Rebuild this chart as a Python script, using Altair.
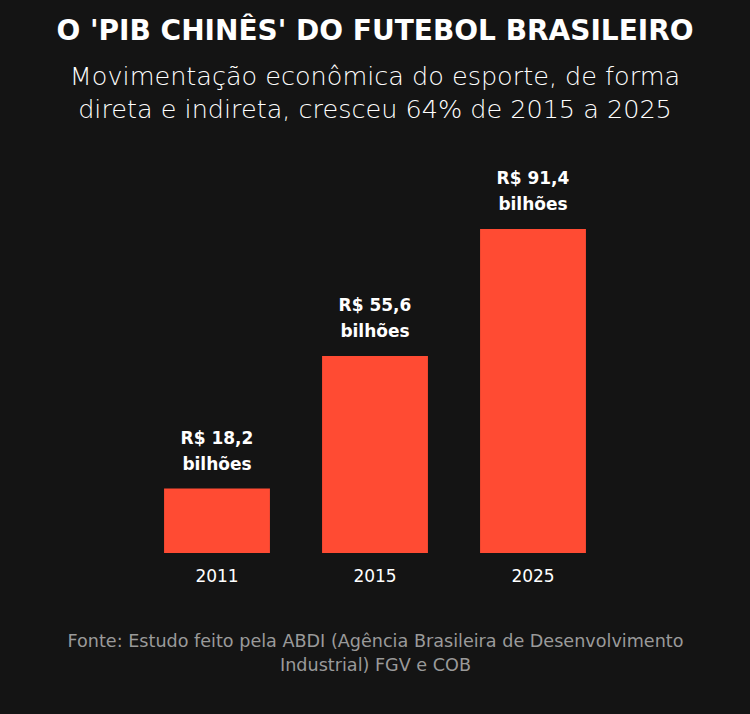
import altair as alt
import pandas as pd

anos = ["2011", "2015", "2025"]
valores = [18.2, 55.6, 91.4]
rotulos = ["R$ 18,2\nbilhões", "R$ 55,6\nbilhões", "R$ 91,4\nbilhões"]

titulo = "O 'PIB CHINÊS' DO FUTEBOL BRASILEIRO"
subtitulo = ["Movimentação econômica do esporte, de forma",
             "direta e indireta, cresceu 64% de 2015 a 2025"]
fonte = ["Fonte: Estudo feito pela ABDI (Agência Brasileira de Desenvolvimento",
         "Industrial) FGV e COB"]

df = pd.DataFrame({"ano": anos, "valor": valores, "rotulo": rotulos})

FONT = "DejaVu Sans"
BG = "#141414"
BAR = "#ff4b33"

x = alt.X("ano:N", sort=anos,
          scale=alt.Scale(paddingInner=0.33, paddingOuter=0.165),
          axis=alt.Axis(title=fonte, labelAngle=0, labelColor="#ffffff",
                        labelFont=FONT, labelFontSize=17, labelPadding=15,
                        domain=False, ticks=False,
                        titleColor="#9a9a9a", titleFont=FONT, titleFontSize=17.6,
                        titleFontWeight="normal", titlePadding=48,
                        titleLineHeight=24))
y = alt.Y("valor:Q", scale=alt.Scale(domain=[0, 110.9], nice=False), axis=None)

bars = alt.Chart(df).mark_bar(color=BAR).encode(x=x, y=y)
labels = alt.Chart(df).mark_text(
    color="#ffffff", font=FONT, fontSize=17, fontWeight="bold",
    baseline="bottom", dy=-41, lineBreak="\n", lineHeight=26
).encode(x=x, y=y, text="rotulo:N")

chart = (bars + labels).properties(
    width=474, height=393,
    background=BG,
    autosize=alt.AutoSizeParams(type="none"),
    padding={"left": 138, "top": 160, "right": 138, "bottom": 161},
    title=alt.TitleParams(
        text=titulo, subtitle=subtitulo, anchor="middle",
        color="#ffffff", font=FONT, fontSize=28, fontWeight="bold",
        subtitleColor="#ffffff", subtitleFont=FONT, subtitleFontSize=25.5,
        subtitleFontWeight=200, subtitleLineHeight=33, subtitlePadding=19,
        offset=37,
    ),
).configure_view(stroke=None)

chart.save("out.html", embed_options={"renderer": "svg", "actions": False})
